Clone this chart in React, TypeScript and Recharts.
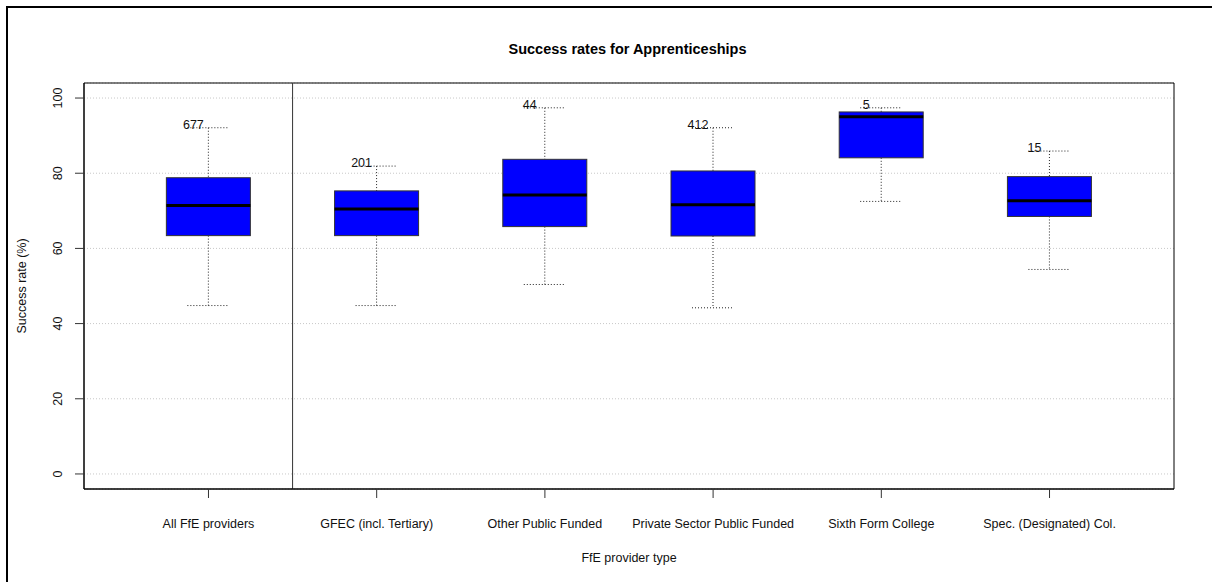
import React from 'react';
import {
  Bar,
  CartesianGrid,
  ComposedChart,
  ReferenceArea,
  ReferenceLine,
  XAxis,
  YAxis,
} from 'recharts';

const categories = [
  'All FfE providers',
  'GFEC (incl. Tertiary)',
  'Other Public Funded',
  'Private Sector Public Funded',
  'Sixth Form College',
  'Spec. (Designated) Col.',
];
const positions = [1, 2, 3, 4, 5, 6];
const counts = [677, 201, 44, 412, 5, 15];
const whiskerLow = [44.8, 44.8, 50.4, 44.2, 72.5, 54.4];
const quartile1 = [63.4, 63.4, 65.8, 63.3, 84.1, 68.5];
const medians = [71.4, 70.5, 74.2, 71.6, 95.0, 72.7];
const quartile3 = [78.8, 75.3, 83.7, 80.6, 96.3, 79.1];
const whiskerHigh = [92.1, 81.9, 97.4, 92.1, 97.4, 85.9];
const yTicks = [0, 20, 40, 60, 80, 100];
const separatorAt = 1.5;

const xDomain: [number, number] = [0.26, 6.74];
const yDomain: [number, number] = [-4, 104];

const FONT = '"Liberation Sans", Arial, Helvetica, sans-serif';

type Row = {
  pos: number;
  name: string;
  n: number;
  lo: number;
  q1: number;
  med: number;
  q3: number;
  hi: number;
  range: [number, number];
};

const rows: Row[] = positions.map((pos, i) => ({
  pos,
  name: categories[i],
  n: counts[i],
  lo: whiskerLow[i],
  q1: quartile1[i],
  med: medians[i],
  q3: quartile3[i],
  hi: whiskerHigh[i],
  range: [whiskerLow[i], whiskerHigh[i]],
}));

// the bar spans lo..hi; everything else is placed along that scaled span
function BoxShape(props: any) {
  const { x, y, width, height, payload } = props;
  if (payload == null || height == null) return null;
  const top = Math.min(y, y + height);
  const span = Math.abs(height);
  const ppu = span / (payload.hi - payload.lo);
  const yOf = (v: number) => top + (payload.hi - v) * ppu;
  const cx = x + width / 2;
  const cap = width / 4;
  const dotted = { stroke: '#222', strokeWidth: 1, strokeDasharray: '1 2' };
  return (
    <g>
      <line x1={cx} x2={cx} y1={yOf(payload.hi)} y2={yOf(payload.q3)} {...dotted} />
      <line x1={cx} x2={cx} y1={yOf(payload.q1)} y2={yOf(payload.lo)} {...dotted} />
      <line x1={cx - cap} x2={cx + cap} y1={yOf(payload.hi)} y2={yOf(payload.hi)} {...dotted} />
      <line x1={cx - cap} x2={cx + cap} y1={yOf(payload.lo)} y2={yOf(payload.lo)} {...dotted} />
      <rect
        x={x}
        y={yOf(payload.q3)}
        width={width}
        height={yOf(payload.q1) - yOf(payload.q3)}
        fill="#0000ff"
        stroke="#333"
        strokeWidth={1}
      />
      <line
        x1={x}
        x2={x + width}
        y1={yOf(payload.med)}
        y2={yOf(payload.med)}
        stroke="#000"
        strokeWidth={3}
      />
      <text
        x={cx - 15}
        y={yOf(payload.hi) - 3}
        textAnchor="middle"
        dominantBaseline="central"
        fontSize={12.5}
        fontFamily={FONT}
        fill="#111"
      >
        {payload.n}
      </text>
    </g>
  );
}

function YTick({ x, y, payload }: any) {
  const tx = x - 15;
  return (
    <text
      x={tx}
      y={y}
      transform={`rotate(-90 ${tx} ${y})`}
      textAnchor="middle"
      dominantBaseline="central"
      fontSize={12.5}
      fontFamily={FONT}
      fill="#111"
    >
      {payload.value}
    </text>
  );
}

export default function App() {
  return (
    <div
      style={{
        position: 'absolute',
        left: 0,
        top: 0,
        width: 1212,
        height: 582,
        overflow: 'hidden',
        background: '#fff',
        fontFamily: FONT,
      }}
    >
      <div
        style={{
          position: 'absolute',
          left: 6,
          top: 6,
          width: 1300,
          height: 700,
          borderLeft: '2px solid #000',
          borderTop: '2px solid #000',
        }}
      />
      <div
        style={{
          position: 'absolute',
          left: 0,
          top: 40,
          width: 1255,
          textAlign: 'center',
          fontSize: 14.5,
          lineHeight: '18px',
          fontWeight: 'bold',
          color: '#000',
        }}
      >
        Success rates for Apprenticeships
      </div>
      <div style={{ position: 'absolute', left: 0, top: 0 }}>
        <ComposedChart
          width={1212}
          height={582}
          data={rows}
          margin={{ top: 83, right: 38, bottom: 0, left: 0 }}
        >
          <CartesianGrid
            horizontal
            vertical={false}
            stroke="#c8c8c8"
            strokeDasharray="1 2"
          />
          <XAxis
            dataKey="pos"
            type="number"
            domain={xDomain}
            ticks={positions}
            interval={0}
            allowDataOverflow
            height={93}
            tickSize={9}
            tickMargin={21}
            tickFormatter={(v: number) => categories[v - 1]}
            tick={{ fontSize: 12.5, fill: '#111', fontFamily: FONT }}
            tickLine={{ stroke: '#333' }}
            axisLine={{ stroke: '#000' }}
            label={{
              value: 'FfE provider type',
              position: 'insideBottom',
              offset: 20,
              fontSize: 12.5,
              fill: '#111',
              fontFamily: FONT,
            }}
          />
          <YAxis
            type="number"
            domain={yDomain}
            ticks={yTicks}
            interval={0}
            allowDataOverflow
            width={84}
            tickSize={9}
            tick={<YTick />}
            tickLine={{ stroke: '#333' }}
            axisLine={{ stroke: '#000' }}
            label={{
              value: 'Success rate (%)',
              angle: -90,
              position: 'insideLeft',
              offset: 22,
              fontSize: 12.5,
              fill: '#111',
              fontFamily: FONT,
              style: { textAnchor: 'middle' },
            }}
          />
          <ReferenceArea
            x1={xDomain[0]}
            x2={xDomain[1]}
            y1={yDomain[0]}
            y2={yDomain[1]}
            fill="none"
            fillOpacity={0}
            stroke="#000"
            strokeWidth={1}
            ifOverflow="visible"
          />
          <ReferenceLine x={separatorAt} stroke="#333" strokeWidth={1} />
          <Bar
            dataKey="range"
            barSize={84}
            shape={<BoxShape />}
            isAnimationActive={false}
          />
        </ComposedChart>
      </div>
    </div>
  );
}
